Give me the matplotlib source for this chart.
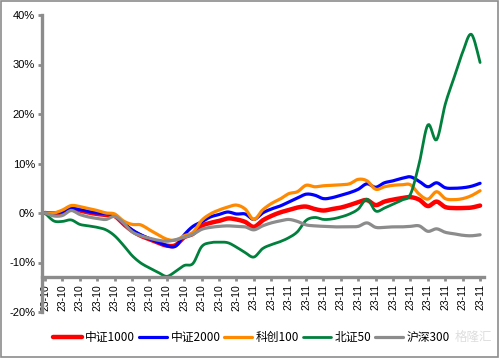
import numpy as np
import matplotlib
matplotlib.use("Agg")
import matplotlib.pyplot as plt
from matplotlib.patches import Rectangle

# ---------------- data (percent) ----------------
x_labels = ["23-10"] * 12 + ["23-11"] * 14

csi1000 = [0, -0.2, 0.2, 0.8, 0.5, 0.1, -0.2, -0.4, -0.6, -2.2, -3.6, -4.6, -5.3, -6.0, -6.6, -6.5,
           -4.9, -4.2, -2.6, -2.0, -1.6, -1.1, -1.3, -1.8, -2.8, -1.5, -0.6, 0.1, 0.6, 1.1, 1.3,
           0.8, 0.5, 0.8, 1.1, 1.6, 2.2, 2.6, 1.6, 2.3, 2.7, 3.0, 3.2, 2.7, 1.4, 2.3, 1.2, 1.0,
           1.0, 1.1, 1.5]
csi2000 = [0, 0, 0.3, 0.9, 0.7, 0.3, 0, -0.1, -0.4, -2.0, -3.4, -4.4, -5.2, -5.9, -6.6, -6.7,
           -4.4, -2.7, -1.8, -0.8, -0.3, 0.2, -0.2, -0.2, -1.3, 0.0, 0.8, 1.4, 2.2, 3.0, 3.8,
           3.6, 2.9, 3.1, 3.6, 4.1, 4.8, 5.9, 5.2, 6.1, 6.5, 7.0, 7.3, 6.4, 5.3, 6.1, 5.1, 5.0,
           5.1, 5.4, 6.0]
star100 = [0, 0.0, 0.6, 1.5, 1.3, 0.9, 0.5, 0.0, -0.2, -1.6, -2.3, -2.4, -3.4, -4.4, -5.3, -5.5,
           -4.6, -3.9, -1.5, -0.2, 0.6, 1.2, 1.6, 0.8, -1.3, 0.6, 1.9, 2.8, 3.9, 4.3, 5.6,
           5.3, 5.5, 5.6, 5.7, 5.9, 6.8, 6.5, 4.8, 5.3, 5.6, 5.7, 5.7, 3.8, 2.8, 4.3, 2.9, 2.7,
           2.9, 3.5, 4.5]
bse50 = [0, -1.6, -1.7, -1.4, -2.3, -2.6, -2.9, -3.4, -4.6, -6.5, -8.6, -10.1, -11.1, -12.0, -12.8,
         -11.8, -10.6, -10.2, -6.8, -6.0, -5.9, -6.0, -6.9, -8.0, -8.9, -7.2, -6.4, -5.8, -5.0,
         -3.8, -1.5, -0.9, -1.3, -1.2, -0.8, -0.2, 0.8, 2.8, 0.4, 1.0, 1.8, 2.6, 3.8, 10.0,
         17.8, 14.8, 22.0, 27.3, 32.5, 36.1, 30.4]
hs300 = [0, -0.6, -0.5, 0.5, -0.3, -0.8, -1.1, -1.3, -0.7, -2.0, -3.8, -4.6, -5.1, -5.5, -5.7,
         -5.4, -4.9, -4.3, -3.3, -2.9, -2.7, -2.6, -2.7, -2.8, -3.4, -2.6, -2.0, -1.6, -1.3,
         -1.7, -2.4, -2.6, -2.7, -2.8, -2.8, -2.8, -2.7, -2.0, -2.9, -2.9, -2.8, -2.8, -2.7,
         -2.6, -3.7, -3.2, -3.9, -4.2, -4.5, -4.6, -4.4]

series_names = ["中证1000", "中证2000", "科创100", "北证50", "沪深300"]
series_values = [csi1000, csi2000, star100, bse50, hs300]
series_colors = ["#FF0000", "#0000FF", "#FF8A00", "#00803C", "#8C8C8C"]
series_widths = [3.2, 2.3, 2.3, 2.0, 2.3]


def smooth(y, n=8):
    """Catmull-Rom curve through the data points (rendering only)."""
    y = np.asarray(y, float) / 100.0
    x = np.arange(len(y), dtype=float)
    px = np.concatenate([[x[0]], x, [x[-1]]])
    py = np.concatenate([[y[0]], y, [y[-1]]])
    xs, ys = [], []
    t = np.linspace(0, 1, n, endpoint=False)
    for i in range(1, len(px) - 2):
        for P, out in ((px, xs), (py, ys)):
            p0, p1, p2, p3 = P[i - 1], P[i], P[i + 1], P[i + 2]
            out.append(0.5 * ((2 * p1) + (-p0 + p2) * t + (2 * p0 - 5 * p1 + 4 * p2 - p3) * t ** 2
                              + (-p0 + 3 * p1 - 3 * p2 + p3) * t ** 3))
    xs.append([x[-1]]); ys.append([y[-1]])
    return np.concatenate(xs), np.concatenate(ys)


plt.rcParams['font.family'] = ['Liberation Sans', 'Noto Sans CJK SC', 'DejaVu Sans']

fig = plt.figure(figsize=(4.99, 3.58), dpi=100)
ax = fig.add_axes([42 / 499, 46 / 358, 442 / 499, 297 / 358])

for name, vals, col, lw in zip(series_names, series_values, series_colors, series_widths):
    sx, sy = smooth(vals)
    ax.plot(sx, sy, color=col, lw=lw, label=name, solid_capstyle='round', solid_joinstyle='round')

grey = "#8C8C8C"
for s in ["top", "right"]:
    ax.spines[s].set_visible(False)
ax.spines['left'].set_color(grey)
ax.spines['left'].set_linewidth(2.4)
ax.spines['bottom'].set_color(grey)
ax.spines['bottom'].set_linewidth(2.4)
ax.spines['bottom'].set_position(('data', -0.13))

ax.set_xlim(-0.35, 50.45)
ax.set_ylim(-0.20, 0.40)

yt = np.arange(-0.20, 0.401, 0.10)
ax.set_yticks(yt)
ax.set_yticklabels([f"{int(round(v * 100))}%" for v in yt], fontsize=8)

xt = np.arange(0, 51, 2)
ax.set_xticks(xt)
ax.set_xticklabels(x_labels, fontsize=7.5)

ax.tick_params(axis='y', direction='out', length=3, width=2, color=grey, pad=2)
ax.tick_params(axis='x', direction='out', length=3, width=2, color=grey, pad=2,
               labelrotation=90)
ax.patch.set_alpha(0)

leg = fig.legend(loc='center left', bbox_to_anchor=(0.095, 0.058), ncol=5, frameon=False,
                 handlelength=2.4, handletextpad=0.3, columnspacing=0.3, borderpad=0,
                 prop={'family': ['Noto Sans CJK SC', 'DejaVu Sans'], 'size': 8.5})

fig.text(0.948, 0.058, "格隆汇", fontsize=9, color="#C8C8C8", alpha=0.6,
         ha='center', va='center', family=['Noto Sans CJK SC', 'DejaVu Sans'])

fig.patches.append(Rectangle((0.002, 0.003), 0.995, 0.993, transform=fig.transFigure,
                             fill=False, edgecolor=grey, lw=1.2))

fig.savefig("out.png", dpi=100)
